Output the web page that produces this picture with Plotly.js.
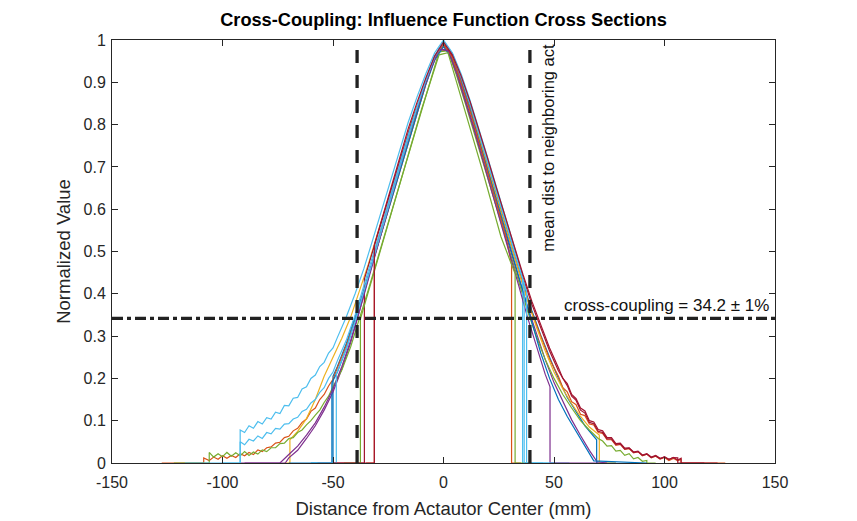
<!DOCTYPE html>
<html>
<head>
<meta charset="utf-8">
<script src="https://cdn.plot.ly/plotly-2.35.2.min.js"></script>
<style>html,body{margin:0;padding:0;background:#fff;}#chart{width:857px;height:521px;}</style>
</head>
<body>
<div id="chart"></div>
<script>
// ---- data ----
const colors = ['#0072BD','#D95319','#EDB120','#7E2F8E','#77AC30','#4DBEEE','#A2142F'];

const x1 = [-60,-50,-50,-48,-44,-40,-36,-32,-28,-24,-20,-16,-12,-8,-4,0,4,8,12,16,20,24,28,32,36,40,44,48,52,56,60,64,69.3,69.3,78];
const y1 = [0,0,0.205,0.228,0.282,0.345,0.41,0.478,0.548,0.618,0.69,0.765,0.835,0.9,0.962,0.99,0.958,0.905,0.842,0.772,0.703,0.632,0.561,0.492,0.425,0.36,0.302,0.25,0.2,0.155,0.12,0.088,0.055,0,0];

const x2 = [-127.5,-108.5,-108.5,-106,-104,-102,-100,-98,-96,-94,-92,-90,-88,-86,-84,-82,-80,-78,-76,-74,-72,-70,-68,-66,-64,-62,-60,-58,-56,-54,-52,-50,-48,-44,-40,-36,-32,-28,-24,-20,-16,-12,-8,-4,0,4,8,12,16,20,24,28,32,36,40,44,48,50,52,54,56,58,60,62,64,66,68,70,72,74,76,78,80,82,84,86,88,90,92,94,96,98,100,102,104,106,107.5,107.5,127.5];
const y2 = [0,0,0.012,0.006,0.014,0.009,0.017,0.011,0.018,0.013,0.022,0.017,0.025,0.02,0.031,0.027,0.036,0.038,0.047,0.049,0.06,0.063,0.076,0.082,0.096,0.104,0.122,0.13,0.15,0.162,0.182,0.198,0.225,0.278,0.338,0.405,0.475,0.545,0.615,0.688,0.76,0.83,0.895,0.958,0.985,0.96,0.9,0.838,0.768,0.698,0.628,0.558,0.488,0.42,0.355,0.298,0.246,0.225,0.205,0.178,0.168,0.145,0.138,0.115,0.112,0.092,0.09,0.072,0.07,0.055,0.055,0.042,0.044,0.032,0.034,0.024,0.027,0.017,0.021,0.012,0.016,0.009,0.013,0.006,0.011,0.005,0.009,0,0];

const x3 = [-72,-69.5,-69.5,-66,-62,-58,-54,-50,-46,-42,-38,-34,-30,-26,-22,-18,-14,-10,-6,-2,2,6,10,14,18,22,26,30,34,38,42,46,50,54,58,62,66,70.5,70.5,78];
const y3 = [0,0,0.055,0.075,0.105,0.15,0.205,0.25,0.295,0.345,0.405,0.47,0.54,0.605,0.675,0.745,0.815,0.87,0.93,0.975,0.975,0.93,0.87,0.805,0.735,0.665,0.595,0.525,0.455,0.385,0.322,0.265,0.215,0.175,0.14,0.11,0.085,0.066,0,0];

const x4 = [-92,-71.6,-70,-66,-62,-58,-54,-50,-46,-42,-38,-34,-30,-26,-22,-18,-14,-10,-6,-2,2,6,10,14,18,22,26,30,34,38,42,46,50,54,58,62,66,69.5,74];
const y4 = [0,0,0.012,0.03,0.058,0.088,0.125,0.168,0.222,0.285,0.36,0.44,0.52,0.595,0.668,0.74,0.81,0.872,0.93,0.98,0.975,0.925,0.86,0.79,0.72,0.648,0.578,0.508,0.438,0.37,0.305,0.245,0.19,0.145,0.102,0.065,0.03,0.003,0];

const x5 = [-122,-106,-106,-104,-102,-100,-98,-96,-94,-92,-90,-88,-86,-84,-82,-80,-78,-76,-74,-72,-70,-68,-66,-64,-62,-60,-58,-56,-54,-52,-50,-46,-42,-38,-34,-30,-26,-22,-18,-14,-10,-6,-2,2,6,10,14,18,22,26,30,34,38,42,46,50,54,58,62,66,70,72,74,76,78,80,82,84,86,88,90,92,92,96];
const y5 = [0,0,0.025,0.014,0.022,0.015,0.025,0.016,0.024,0.017,0.027,0.018,0.026,0.021,0.031,0.027,0.036,0.036,0.046,0.047,0.058,0.06,0.072,0.078,0.09,0.1,0.113,0.125,0.143,0.158,0.18,0.22,0.275,0.34,0.41,0.48,0.55,0.62,0.69,0.76,0.83,0.9,0.972,0.975,0.915,0.848,0.778,0.705,0.635,0.565,0.495,0.425,0.36,0.3,0.245,0.2,0.162,0.13,0.1,0.078,0.058,0.052,0.04,0.041,0.028,0.03,0.018,0.022,0.01,0.013,0.004,0.006,0,0];

const x6 = [-117,-92,-92,-90,-88,-86,-84,-82,-80,-78,-76,-74,-72,-70,-68,-66,-64,-62,-60,-58,-56,-54,-52,-50,-48,-44,-40,-36,-32,-28,-24,-20,-16,-12,-8,-4,0,4,8,12,16,20,24,28,32,35.8,35.8,57];
const y6 = [0,0,0.078,0.072,0.088,0.082,0.098,0.092,0.107,0.104,0.12,0.117,0.136,0.135,0.153,0.155,0.175,0.18,0.2,0.208,0.228,0.238,0.26,0.272,0.297,0.345,0.4,0.46,0.528,0.598,0.668,0.738,0.805,0.865,0.92,0.97,1.0,0.97,0.92,0.858,0.792,0.722,0.652,0.582,0.512,0.445,0,0];

const x7 = [-57,-35.8,-35.8,-32,-28,-24,-20,-16,-12,-8,-4,0,4,8,12,16,20,24,28,32,36,40,44,48,52,54,56,58,60,62,64,66,68,70,72,74,76,78,80,82,84,86,88,90,92,94,96,98,100,102,104,106,107.5,107.5,124];
const y7 = [0,0,0.435,0.5,0.57,0.64,0.71,0.78,0.845,0.905,0.96,0.99,0.962,0.912,0.852,0.785,0.715,0.645,0.575,0.505,0.438,0.375,0.318,0.265,0.218,0.2,0.183,0.158,0.148,0.125,0.118,0.096,0.093,0.075,0.072,0.057,0.057,0.044,0.045,0.033,0.035,0.025,0.027,0.018,0.021,0.013,0.017,0.01,0.015,0.008,0.013,0.007,0.011,0,0];

const x8 = [-70,-50.5,-50.5,-48,-44,-40,-36,-32,-28,-24,-20,-16,-12,-8,-4,0,4,8,12,16,20,24,28,32,36,40,44,48,52,56,60,64,68,92];
const y8 = [0,0,0.19,0.215,0.27,0.335,0.405,0.475,0.545,0.615,0.688,0.76,0.83,0.895,0.952,0.985,0.955,0.9,0.835,0.765,0.695,0.622,0.55,0.478,0.405,0.335,0.26,0.2,0.15,0.11,0.075,0.04,0.005,0];

const x9 = [-35,-31.3,-31.3,-28,-24,-20,-16,-12,-8,-4,0,4,8,12,16,20,24,28,30.8,30.8,35];
const y9 = [0,0,0.5,0.555,0.625,0.695,0.768,0.838,0.9,0.958,0.99,0.958,0.898,0.832,0.76,0.688,0.615,0.54,0.47,0,0];

const x10 = [-45,-37.6,-37.6,-34,-30,-26,-22,-18,-14,-10,-6,-2,2,6,10,14,18,22,26,30,32.4,32.4,40];
const y10 = [0,0,0.34,0.405,0.475,0.548,0.62,0.692,0.765,0.835,0.9,0.965,0.97,0.9,0.83,0.758,0.685,0.61,0.535,0.48,0.448,0,0];

const x11 = [-100,-92,-92,-90,-88,-86,-84,-82,-80,-78,-76,-74,-72,-70,-68,-66,-64,-62,-60,-58,-56,-54,-52,-50,-48,-44,-40,-36,-32,-28,-24,-20,-16,-12,-8,-4,0,4,8,12,16,20,24,28,32,37.6,37.6,45];
const y11 = [0,0,0.05,0.043,0.056,0.052,0.064,0.058,0.072,0.069,0.082,0.08,0.092,0.093,0.104,0.108,0.122,0.127,0.142,0.15,0.167,0.178,0.2,0.215,0.242,0.29,0.35,0.418,0.49,0.56,0.632,0.705,0.775,0.842,0.905,0.96,0.995,0.968,0.915,0.85,0.782,0.712,0.642,0.572,0.5,0.405,0,0];

const x12 = [-90,-74,-70,-66,-62,-58,-54,-50,-46,-42,-38,-34,-30,-26,-22,-18,-14,-10,-6,-2,2,6,10,14,18,22,26,30,34,38,42,46,48.2,48.2,70];
const y12 = [0,0,0.02,0.04,0.066,0.095,0.132,0.175,0.228,0.29,0.36,0.435,0.51,0.585,0.66,0.735,0.805,0.87,0.928,0.978,0.975,0.92,0.855,0.785,0.712,0.64,0.568,0.495,0.42,0.345,0.275,0.21,0.18,0,0];

const x13 = [-50,-31.3,-31.3,-28,-24,-20,-16,-12,-8,-4,0,4,8,12,16,20,24,28,32,36,40,44,48,52,54,56,58,60,62,64,66,68,70,72,74,76,78,80,82,84,86,88,90,92,94,96,98,100,102,104,106,106,118];
const y13 = [0,0,0.515,0.575,0.648,0.72,0.79,0.852,0.91,0.962,0.995,0.965,0.915,0.855,0.79,0.72,0.65,0.58,0.512,0.445,0.382,0.325,0.272,0.225,0.2,0.188,0.162,0.152,0.13,0.123,0.1,0.097,0.079,0.076,0.06,0.06,0.046,0.047,0.035,0.036,0.026,0.028,0.019,0.022,0.014,0.018,0.011,0.014,0.009,0.013,0.012,0,0];

const x14 = [-60,-48.5,-48.5,-44,-40,-36,-32,-28,-24,-20,-16,-12,-8,-4,0,4,8,12,16,20,24,28,32,36.5,36.5,50];
const y14 = [0,0,0.21,0.27,0.335,0.405,0.478,0.55,0.622,0.695,0.768,0.84,0.905,0.962,0.998,0.968,0.912,0.85,0.78,0.71,0.64,0.57,0.5,0.425,0,0];

// curve -> colour index (MATLAB default order)
const curves = [
  [x1,y1,0],[x2,y2,1],[x3,y3,2],[x4,y4,3],[x5,y5,4],[x6,y6,5],[x7,y7,6],
  [x8,y8,0],[x9,y9,1],[x12,y12,3],[x10,y10,4],[x11,y11,5],[x14,y14,5],[x13,y13,6]
];

const meanDist = 39.1;      // mm, mean distance to neighbouring actuator
const crossLevel = 0.342;   // cross-coupling level
const xTicks = [-150,-100,-50,0,50,100,150];
const xTickText = ['-150','-100','-50','0','50','100','150'];
const xRange = [-150,150];
const yRange = [0,1];

const font = 'Arial, "Liberation Sans", Helvetica, sans-serif';
const axCol = '#262626';

const traces = curves.map(c => ({
  x: c[0], y: c[1], type: 'scatter', mode: 'lines',
  line: {color: colors[c[2]], width: 1.2}, hoverinfo: 'skip', showlegend: false
}));

traces.push({x:[-meanDist,-meanDist], y:yRange, type:'scatter', mode:'lines',
  line:{color:'#222', width:3.3, dash:'13px,12px'}, showlegend:false, hoverinfo:'skip'});
traces.push({x:[meanDist,meanDist], y:yRange, type:'scatter', mode:'lines',
  line:{color:'#222', width:3.3, dash:'13px,12px'}, showlegend:false, hoverinfo:'skip'});
traces.push({x:xRange, y:[crossLevel,crossLevel], type:'scatter', mode:'lines',
  line:{color:'#222', width:3.3, dash:'11px,4px,4px,4px'}, showlegend:false, hoverinfo:'skip'});

const layout = {
  width: 857, height: 521, autosize: false,
  margin: {l:112, r:82, t:40, b:58, pad:0},
  paper_bgcolor: '#fff', plot_bgcolor: '#fff',
  font: {family: font, size: 16, color: axCol},
  title: {text: '<b>Cross-Coupling: Influence Function Cross Sections</b>',
    font: {family: font, size: 18.2, color: '#000'},
    x: 0.5, xref: 'paper', y: 0.963, yref: 'container', yanchor: 'middle'},
  xaxis: {range: xRange, tickvals: xTicks, ticktext: xTickText, ticks: 'inside', ticklen: 6, tickcolor: axCol,
    showline: true, linecolor: axCol, linewidth: 1, mirror: 'ticks', showgrid: false, zeroline: false,
    ticklabelstandoff: 5,
    tickfont: {family: font, size: 16, color: axCol},
    title: {text: 'Distance from Actautor Center (mm)', font: {family: font, size: 18.5, color: axCol}, standoff: 11}},
  yaxis: {range: yRange, dtick: 0.1, tick0: 0, ticks: 'inside', ticklen: 6, tickcolor: axCol,
    showline: true, linecolor: axCol, linewidth: 1, mirror: 'ticks', showgrid: false, zeroline: false,
    ticklabelstandoff: 2,
    tickfont: {family: font, size: 16, color: axCol},
    title: {text: 'Normalized Value', font: {family: font, size: 18.5, color: axCol}, standoff: 8}},
  annotations: [
    {x: 47.3, y: 0.996, xref: 'x', yref: 'y', text: 'mean dist to neighboring act', textangle: -90,
     showarrow: false, xanchor: 'center', yanchor: 'top', font: {family: font, size: 16.5, color: '#111'}},
    {x: 148, y: 0.373, xref: 'x', yref: 'y', text: 'cross-coupling = 34.2 ± 1%',
     showarrow: false, xanchor: 'right', yanchor: 'middle', font: {family: font, size: 17, color: '#111'}}
  ]
};

Plotly.newPlot('chart', traces, layout, {displayModeBar: false, staticPlot: true});
</script>
</body>
</html>
